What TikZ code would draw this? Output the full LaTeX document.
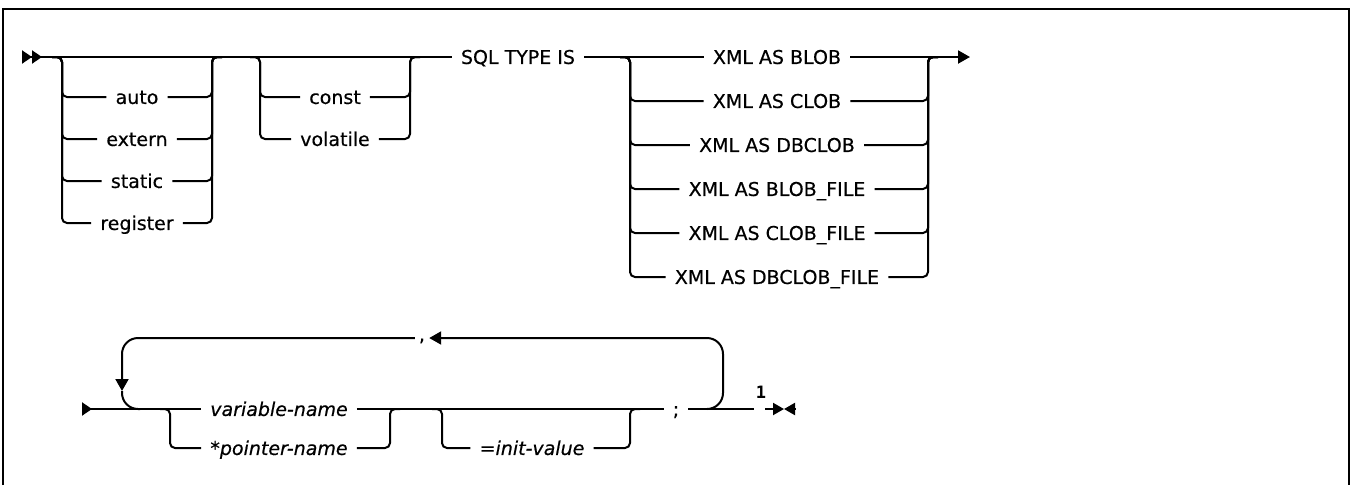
\documentclass[tikz,border=0pt]{standalone}
\usepackage{fontspec}
\setmainfont{DejaVu Sans}[FakeBold=0.5]
\setmonofont{DejaVu Sans Mono}
\usepackage{tikz}
\usetikzlibrary{arrows.meta}

\begin{document}
\begin{tikzpicture}[
    x=1pt,y=-1pt,
    >={Triangle[length=12pt,width=13pt]},
    rail/.style={line width=2pt, rounded corners=5pt},
    rptline/.style={line width=2pt, rounded corners=16pt},
    kw/.style={
        font=\fontsize{19pt}{22pt}\selectfont,
        inner xsep=9pt, inner ysep=0pt,
        text height=13.9pt, text depth=0pt
    },
    var/.style={kw, font=\fontsize{19pt}{22pt}\selectfont\itshape},
    starttip/.style={{Triangle[reversed,length=10pt,width=13pt]}-}
]

% --- Frame ---
\useasboundingbox (0,0) rectangle (1352,485);
\draw[line width=2pt] (3,485) -- (3,9) -- (1349,9) -- (1349,485);

% --- First line: fixed junction points ---
\coordinate (start) at (22,57);
\coordinate (g1l) at (62,57);
\coordinate (g1r) at (212,57);
\coordinate (g2l) at (260,57);
\coordinate (g2r) at (410,57);
\coordinate (g3l) at (630,57);
\coordinate (g3r) at (928,57);
\coordinate (stop) at (970,57);

\node[kw] (auto) at (137,97) {auto};
\node[kw] (extern) at (137,139) {extern};
\node[kw] (static) at (137,181) {static};
\node[kw] (register) at (137,223) {register};

\node[kw] (const) at (335,97) {const};
\node[kw] (volatile) at (335,139) {volatile};

\node[kw] (sqltype) at (518,57) {SQL TYPE IS};

\node[kw] (xblob) at (777,57) {XML AS BLOB};
\node[kw] (xclob) at (777,101) {XML AS CLOB};
\node[kw] (xdbclob) at (777,145) {XML AS DBCLOB};
\node[kw] (xblobf) at (777,189) {XML AS BLOB\_FILE};
\node[kw] (xclobf) at (777,233) {XML AS CLOB\_FILE};
\node[kw] (xdbclobf) at (777,277) {XML AS DBCLOB\_FILE};

% --- Main track ---
\draw[rail, {Triangle[reversed,length=10pt,width=13pt] Triangle[reversed,length=10pt,width=13pt]}-]
    (start) -- (sqltype.west);
\draw[rail] (sqltype.east) -- (xblob.west);
\draw[rail, ->] (xblob.east) -- (stop);

% --- Storage class (optional) ---
\draw[rail] ([xshift=-10pt]g1l) -- (g1l) |- (auto.west);
\draw[rail] ([xshift=-10pt]g1l) -- (g1l) |- (extern.west);
\draw[rail] ([xshift=-10pt]g1l) -- (g1l) |- (static.west);
\draw[rail] ([xshift=-10pt]g1l) -- (g1l) |- (register.west);
\draw[rail] (auto.east) -| (g1r) -- ([xshift=10pt]g1r);
\draw[rail] (extern.east) -| (g1r) -- ([xshift=10pt]g1r);
\draw[rail] (static.east) -| (g1r) -- ([xshift=10pt]g1r);
\draw[rail] (register.east) -| (g1r) -- ([xshift=10pt]g1r);

% --- Qualifier (optional) ---
\draw[rail] ([xshift=-10pt]g2l) -- (g2l) |- (const.west);
\draw[rail] ([xshift=-10pt]g2l) -- (g2l) |- (volatile.west);
\draw[rail] (const.east) -| (g2r) -- ([xshift=10pt]g2r);
\draw[rail] (volatile.east) -| (g2r) -- ([xshift=10pt]g2r);

% --- XML type (required choice) ---
\draw[rail] ([xshift=-10pt]g3l) -- (g3l) |- (xclob.west);
\draw[rail] ([xshift=-10pt]g3l) -- (g3l) |- (xdbclob.west);
\draw[rail] ([xshift=-10pt]g3l) -- (g3l) |- (xblobf.west);
\draw[rail] ([xshift=-10pt]g3l) -- (g3l) |- (xclobf.west);
\draw[rail] ([xshift=-10pt]g3l) -- (g3l) |- (xdbclobf.west);
\draw[rail] (xclob.east) -| (g3r) -- ([xshift=10pt]g3r);
\draw[rail] (xdbclob.east) -| (g3r) -- ([xshift=10pt]g3r);
\draw[rail] (xblobf.east) -| (g3r) -- ([xshift=10pt]g3r);
\draw[rail] (xclobf.east) -| (g3r) -- ([xshift=10pt]g3r);
\draw[rail] (xdbclobf.east) -| (g3r) -- ([xshift=10pt]g3r);

% --- Second line: fixed junction points ---
\coordinate (start2) at (82,409);
\coordinate (lpl) at (122,409);
\coordinate (down) at (122,391);
\coordinate (vl) at (170,409);
\coordinate (vr) at (390,409);
\coordinate (il) at (442,409);
\coordinate (ir) at (630,409);
\coordinate (lpr) at (723,409);
\coordinate (fn) at (760,409);
\coordinate (halt) at (784,409);

\node[var] (varname) at (279,409) {variable-name};
\node[var] (ptrname) at (279,448) {*pointer-name};
\node[var] (initval) at (532,448) {=init-value};
\node[kw] (semi) at (676,409) {;};
\node[kw, inner xsep=4pt, text height=6pt] (comma) at (422,338) {,};
\node[font=\fontsize{17pt}{17pt}\selectfont\ttfamily\bfseries, inner sep=0pt] (note) at (761,392) {1};

% --- Main track ---
\draw[rail, starttip] (start2) -- (varname.west);
\draw[rail] (varname.east) -- (semi.west);
\draw[rail] (semi.east) -- ([xshift=-6pt]fn);
\draw[rail, {Triangle[length=11pt,width=12pt]}-] (halt) -- ([xshift=5pt]fn);
\draw[rail, {Triangle[length=11pt,width=12pt]}-] (halt) -- ([xshift=11pt]halt);

% --- Name choice ---
\draw[rail] ([xshift=-10pt]vl) -- (vl) |- (ptrname.west);
\draw[rail] (ptrname.east) -| (vr) -- ([xshift=10pt]vr);

% --- Initializer (optional) ---
\draw[rail] ([xshift=-10pt]il) -- (il) |- (initval.west);
\draw[rail] (initval.east) -| (ir) -- ([xshift=10pt]ir);

% --- Repeat loop ---
\draw[rptline, ->] ([xshift=-16pt]lpr) -- (lpr) |- (comma.east);
\draw[rptline, ->] (comma.west) -| (down);
\draw[rptline] (down) |- ([xshift=18pt]lpl);

\end{tikzpicture}
\end{document}
